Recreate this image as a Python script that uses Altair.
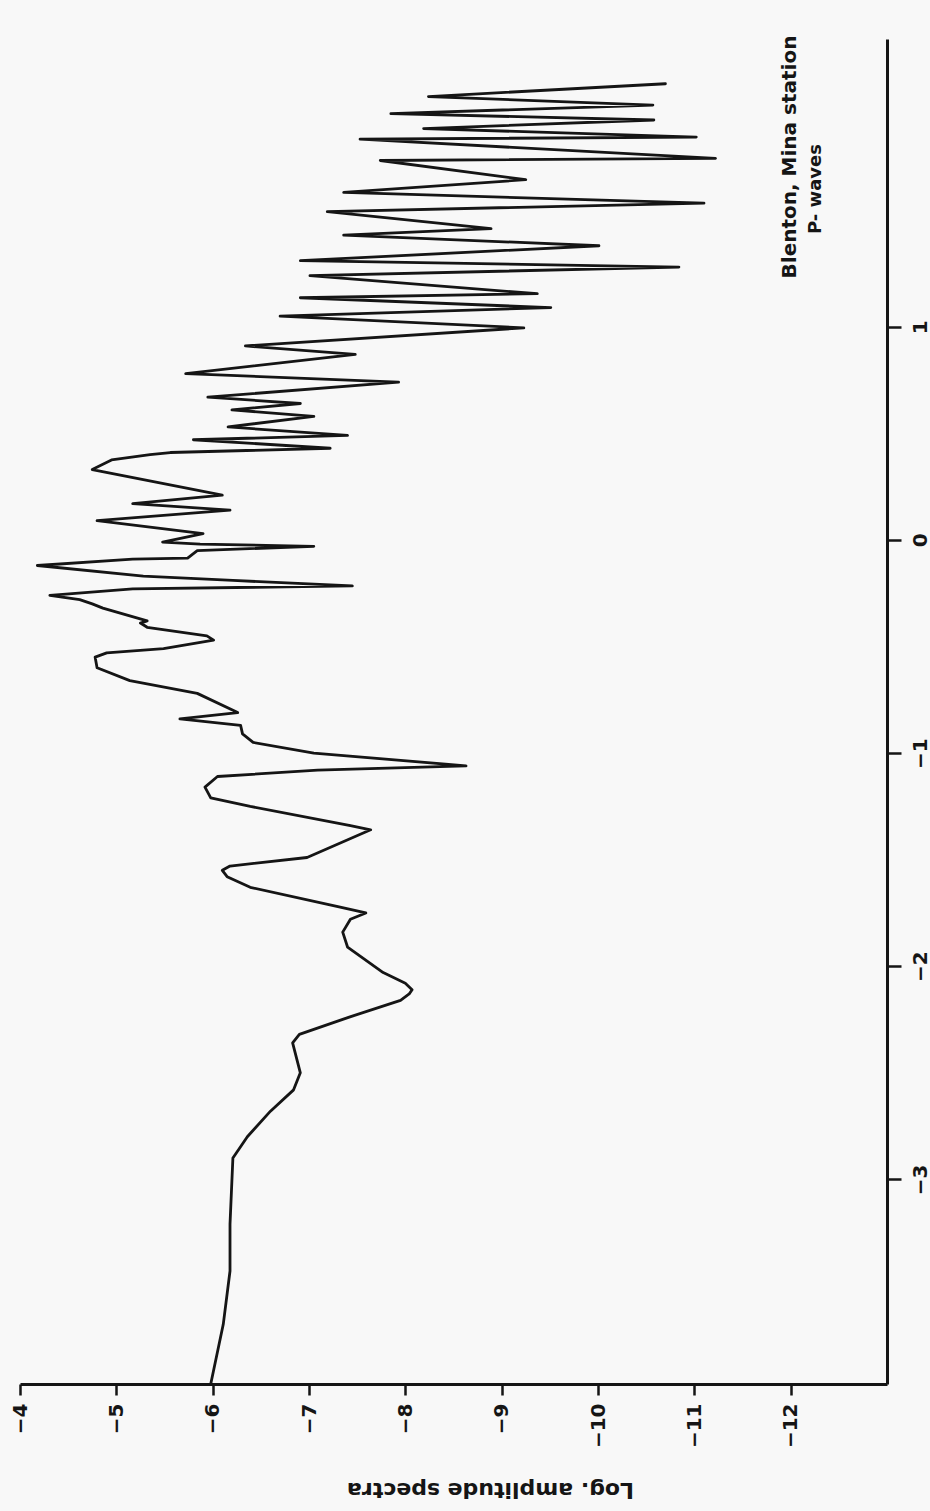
import altair as alt
import pandas as pd

# Log frequency (vertical axis in the rotated figure) and log amplitude spectra
log_freq = [-3.96, -3.68, -3.43, -3.21, -2.90, -2.80, -2.68, -2.58, -2.50, -2.36,
            -2.32, -2.24, -2.16, -2.13, -2.11, -2.08, -2.03, -1.91, -1.84, -1.78, -1.75, -1.72,
            -1.63, -1.58, -1.55, -1.53, -1.49, -1.36, -1.34, -1.25, -1.21, -1.16,
            -1.11, -1.08, -1.06, -1.00, -0.95, -0.91, -0.87, -0.84, -0.81, -0.72,
            -0.66, -0.60, -0.55, -0.53, -0.51, -0.47, -0.45, -0.41, -0.39, -0.38,
            -0.32, -0.30, -0.28, -0.26, -0.23, -0.216, -0.19, -0.17, -0.12, -0.09,
            -0.085, -0.05, -0.03, -0.02, -0.01, 0.03, 0.09, 0.14, 0.17, 0.21,
            0.33, 0.375, 0.40, 0.41, 0.43, 0.47, 0.49, 0.53, 0.58, 0.61,
            0.64, 0.67, 0.74, 0.78, 0.87, 0.91, 0.995, 1.05, 1.09, 1.136,
            1.155, 1.24, 1.28, 1.31, 1.38, 1.43, 1.46, 1.54, 1.58, 1.63,
            1.69, 1.78, 1.79, 1.88, 1.89, 1.93, 1.97, 2.00, 2.04, 2.08, 2.14]
log_amp = [-5.98, -6.11, -6.18, -6.18, -6.21, -6.36, -6.60, -6.84, -6.91, -6.83,
           -6.90, -7.41, -7.95, -8.04, -8.07, -8.00, -7.77, -7.40, -7.35, -7.43, -7.59, -7.30,
           -6.39, -6.15, -6.10, -6.18, -6.98, -7.64, -7.43, -6.39, -5.98, -5.92,
           -6.05, -7.09, -8.63, -7.05, -6.42, -6.31, -6.29, -5.66, -6.26, -5.84,
           -5.14, -4.80, -4.78, -4.90, -5.49, -6.01, -5.94, -5.32, -5.25, -5.32,
           -4.86, -4.75, -4.62, -4.31, -5.17, -7.45, -6.21, -5.28, -4.18, -5.17,
           -5.74, -5.84, -7.05, -5.87, -5.48, -5.90, -4.80, -6.18, -5.17, -6.10,
           -4.75, -4.95, -5.35, -5.56, -7.22, -5.80, -7.40, -6.16, -7.05, -6.20,
           -6.91, -5.95, -7.93, -5.72, -7.48, -6.34, -9.23, -6.70, -9.51, -6.91,
           -9.37, -7.01, -10.84, -6.91, -10.01, -7.36, -8.89, -7.19, -11.10, -7.36,
           -9.25, -7.74, -11.22, -7.53, -11.02, -8.19, -10.58, -7.85, -10.57, -8.24, -10.70]

amp_ticks = [-4, -5, -6, -7, -8, -9, -10, -11, -12]
freq_ticks = [-3, -2, -1, 0, 1]
title_lines = ["Blenton, Mina station", "P- waves"]
amp_title = "Log. amplitude spectra"

df = pd.DataFrame({"i": range(len(log_freq)), "f": log_freq, "a": log_amp})

FONT = "DejaVu Sans"
INK = "#151515"

line = alt.Chart(df).mark_line(
    color=INK, strokeWidth=2.8, strokeCap="round", strokeJoin="round"
).encode(
    x=alt.X("a:Q",
            scale=alt.Scale(domain=[-13, -4], reverse=True, nice=False, zero=False),
            axis=alt.Axis(values=amp_ticks, orient="bottom", grid=False,
                          domainColor=INK, domainWidth=3, tickColor=INK, tickWidth=2.5,
                          tickSize=11, labelAngle=270, labelAlign="right",
                          labelBaseline="middle", labelPadding=8, labelFontSize=20,
                          labelFont=FONT, labelFontWeight="bold", labelColor=INK,
                          title=amp_title, titleAngle=180, titleFont=FONT,
                          titleFontSize=22, titleFontWeight="bold", titleColor=INK,
                          titleX=470, titleY=105, titleAlign="center",
                          titleBaseline="middle")),
    y=alt.Y("f:Q",
            scale=alt.Scale(domain=[-3.96, 2.35], nice=False, zero=False),
            axis=alt.Axis(values=freq_ticks, orient="right", grid=False,
                          domainColor=INK, domainWidth=3, tickColor=INK, tickWidth=2.5,
                          tickSize=14, labelAngle=270, labelAlign="center",
                          labelBaseline="top", labelPadding=9, labelFontSize=20,
                          labelFont=FONT, labelFontWeight="bold", labelColor=INK,
                          title=None)),
    order="i:Q",
)

title_a = alt.Chart(pd.DataFrame({"t": [title_lines[0]]})).mark_text(
    angle=270, font=FONT, fontSize=20, fontWeight="bold", color=INK,
    align="center", baseline="middle"
).encode(text="t:N", x=alt.value(770), y=alt.value(118))
title_b = alt.Chart(pd.DataFrame({"t": [title_lines[1]]})).mark_text(
    angle=270, font=FONT, fontSize=18, fontWeight="bold", color=INK,
    align="center", baseline="middle"
).encode(text="t:N", x=alt.value(796), y=alt.value(150))

chart = alt.layer(line, title_a, title_b).properties(
    width=867, height=1345,
    padding={"left": 20, "top": 39, "right": 43, "bottom": 127},
    autosize=alt.AutoSizeParams(type="none"),
    background="#f8f8f8",
).configure_view(stroke=None)

chart.save("out.html", embed_options={"renderer": "svg", "actions": False})
